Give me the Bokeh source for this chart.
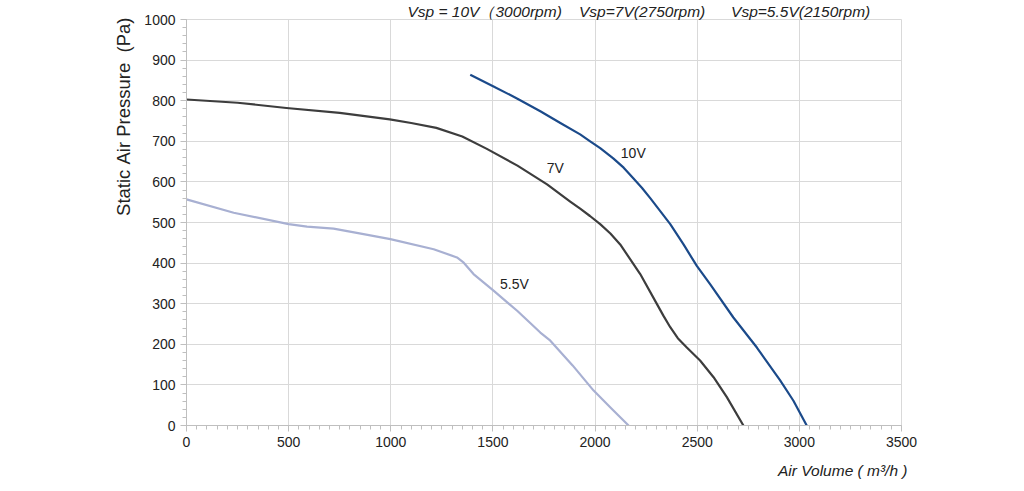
from bokeh.plotting import figure
from bokeh.models import Range1d, Label, SingleIntervalTicker, Title
from bokeh.embed import file_html
from bokeh.resources import INLINE

# Data (Air Volume m3/h, Static Air Pressure Pa)
v10_x = [1389, 1503, 1620, 1732, 1830, 1927, 1976, 2025, 2089, 2140, 2187, 2230, 2270, 2368, 2433, 2498, 2563, 2677, 2792, 2906, 2971, 3036]
v10_y = [864, 835, 805, 774, 745, 717, 700, 683, 658, 635, 609, 585, 560, 496, 446, 393, 348, 266, 192, 111, 61, 0]

v7_x = [0, 250, 489, 750, 995, 1100, 1223, 1350, 1468, 1620, 1765, 1880, 1927, 1975, 2025, 2075, 2123, 2221, 2303, 2335, 2368, 2405, 2449, 2514, 2580, 2645, 2726]
v7_y = [803, 795, 782, 770, 754, 745, 733, 712, 682, 640, 594, 551, 534, 516, 496, 473, 446, 373, 299, 270, 242, 215, 192, 160, 119, 70, 0]

v55_x = [0, 231, 500, 590, 720, 860, 998, 1210, 1324, 1357, 1405, 1503, 1620, 1732, 1781, 1890, 1993, 2080, 2164]
v55_y = [557, 524, 496, 490, 485, 472, 459, 434, 414, 401, 373, 332, 282, 229, 209, 148, 86, 42, 0]

series_names = ["10V", "7V", "5.5V"]
label_pos_x = [2187, 1805, 1605]
label_pos_y = [671, 634, 349]

NB = "\u00a0"
title_text = ("Vsp" + NB + "=" + NB + "10V\uff083000rpm)" + NB * 4 + "Vsp=7V(2750rpm)" + NB * 6
              + "Vsp=5.5V(2150rpm)")
y_title = "Static" + NB + "Air" + NB + "Pressure" + NB * 2 + "(Pa)"
x_title = "Air" + NB + "Volume" + NB + "(" + NB + "m\u00b3/h" + NB + ")"

FONT = "Liberation Sans"
GRID = "#d9d9d9"
AXIS = "#bfbfbf"
TXT = "#222222"

p = figure(width=1016, height=488, output_backend="svg", toolbar_location=None,
           x_range=Range1d(0, 3500), y_range=Range1d(0, 1000),
           min_border_left=186, min_border_right=115, min_border_top=18, min_border_bottom=63)

p.outline_line_color = GRID
p.background_fill_color = "white"
p.border_fill_color = "white"

p.xaxis.ticker = SingleIntervalTicker(interval=500, num_minor_ticks=10)
p.yaxis.ticker = SingleIntervalTicker(interval=100, num_minor_ticks=5)
p.xgrid.ticker = SingleIntervalTicker(interval=500)
p.ygrid.ticker = SingleIntervalTicker(interval=100)

for ax in (p.xaxis, p.yaxis):
    ax.axis_line_color = AXIS
    ax.major_tick_line_color = AXIS
    ax.minor_tick_line_color = AXIS
    ax.major_tick_out = 6
    ax.major_tick_in = 0
    ax.minor_tick_out = 4
    ax.minor_tick_in = 0
    ax.major_label_text_font = FONT
    ax.major_label_text_font_size = "14px"
    ax.major_label_text_color = TXT

p.xgrid.grid_line_color = GRID
p.ygrid.grid_line_color = GRID

p.line(v10_x, v10_y, line_color="#1b4a8a", line_width=2.2, line_join="round")
p.line(v7_x, v7_y, line_color="#3d3d3d", line_width=2.2, line_join="round")
p.line(v55_x, v55_y, line_color="#a8b0d2", line_width=2.2, line_join="round")

for name, lx, ly in zip(series_names, label_pos_x, label_pos_y):
    p.add_layout(Label(x=lx, y=ly, text=name, text_font=FONT, text_font_size="14px",
                       text_color=TXT, text_align="center", text_baseline="middle"))

p.add_layout(Title(text=y_title, align="right", offset=-2, text_font=FONT, text_font_size="18.5px",
                   text_font_style="normal", text_color=TXT, standoff=15), "left")
p.add_layout(Title(text=x_title, align="right", offset=-6, text_font=FONT, text_font_size="15.5px",
                   text_font_style="italic", text_color=TXT, standoff=20), "below")
p.add_layout(Title(text=title_text, align="left", offset=221, text_font=FONT, text_font_size="15.5px",
                   text_font_style="italic", text_color=TXT, standoff=0), "above")

open("out.html", "w").write(file_html(p, INLINE))
